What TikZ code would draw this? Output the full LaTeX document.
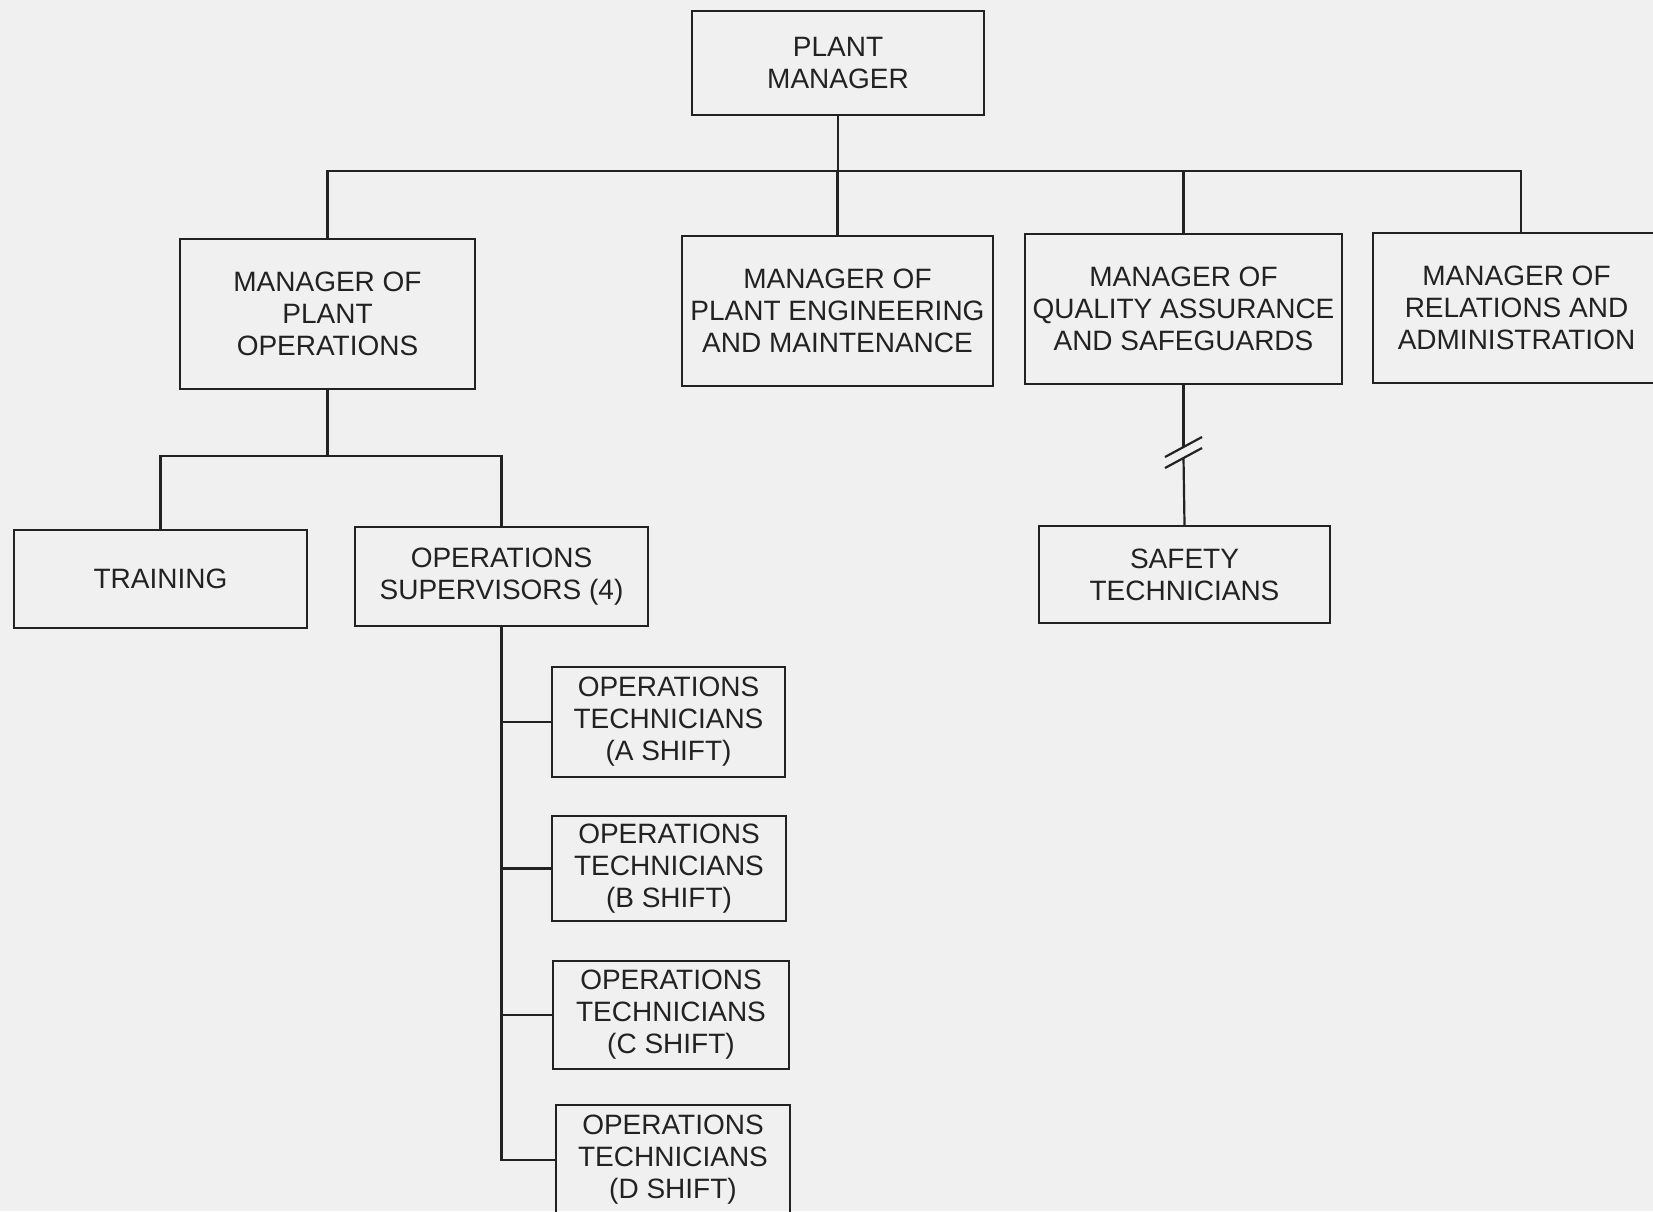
\documentclass[tikz,border=0pt]{standalone}
\usepackage{fontspec}
\setmainfont{Liberation Sans}
\definecolor{paper}{RGB}{240,240,240}
\definecolor{ink}{RGB}{34,34,34}
\begin{document}
\begin{tikzpicture}[x=1pt,y=-1pt,
  box/.style={draw=ink, line width=2.2pt, align=center, inner sep=0pt, text=ink,
    font=\fontsize{28}{32}\selectfont},
  link/.style={draw=ink, line width=2.2pt}]
\fill[paper] (0,0) rectangle (1653,1211);
\useasboundingbox (0,0) rectangle (1653,1211);
\node[box, minimum width=292pt, minimum height=104pt] (pm) at (838,63) {PLANT\\MANAGER};
\node[box, minimum width=295pt, minimum height=150pt] (ops) at (327.5,314) {MANAGER OF\\PLANT\\OPERATIONS};
\node[box, minimum width=311pt, minimum height=150pt] (eng) at (837.5,311) {MANAGER OF\\PLANT ENGINEERING\\AND MAINTENANCE};
\node[box, minimum width=317pt, minimum height=150pt] (qa) at (1183.5,309) {MANAGER OF\\QUALITY ASSURANCE\\AND SAFEGUARDS};
\node[box, minimum width=287pt, minimum height=150pt] (rel) at (1516.5,308) {MANAGER OF\\RELATIONS AND\\ADMINISTRATION};
\node[box, minimum width=293pt, minimum height=98pt] (trn) at (160.5,579) {TRAINING};
\node[box, minimum width=293pt, minimum height=99pt] (sup) at (501.5,576.5) {OPERATIONS\\SUPERVISORS (4)};
\node[box, minimum width=291pt, minimum height=97pt] (saf) at (1184.5,574.5) {SAFETY\\TECHNICIANS};
\node[box, minimum width=233pt, minimum height=110pt] (ta) at (668.5,722) {OPERATIONS\\TECHNICIANS\\(A SHIFT)};
\node[box, minimum width=234pt, minimum height=105pt] (tb) at (669,868.5) {OPERATIONS\\TECHNICIANS\\(B SHIFT)};
\node[box, minimum width=236pt, minimum height=108pt] (tc) at (671,1015) {OPERATIONS\\TECHNICIANS\\(C SHIFT)};
\node[box, minimum width=234pt, minimum height=110pt] (td) at (673,1160) {OPERATIONS\\TECHNICIANS\\(D SHIFT)};
% top bus
\coordinate (bus) at (838,171);
\coordinate (busR) at (1521,171);
\draw[link] (pm.south) -- (bus);
\draw[link] (ops.north) |- (bus) -- (busR) -- (busR |- rel.north);
\draw[link] (eng.north) -- (eng.north |- bus);
\draw[link] (qa.north) -- (qa.north |- bus);
% operations branch
\coordinate (j1) at (327.5,456);
\draw[link] (ops.south) -- (j1);
\draw[link] (trn.north) |- (j1) -| (sup.north);
% supervisors to technicians
\draw[link] (sup.south) -- (sup.south |- td.west) -- (td.west);
\draw[link] (ta.west) -- (ta.west -| sup.south);
\draw[link] (tb.west) -- (tb.west -| sup.south);
\draw[link] (tc.west) -- (tc.west -| sup.south);
% QA to safety with break
\coordinate (brkA) at (1183.5,447);
\coordinate (brkB) at (1183.5,458);
\draw[link] (qa.south) -- (brkA);
\draw[link] (brkB) -- (saf.north);
\draw[link] (1165,457) -- (1202,437);
\draw[link] (1165,468) -- (1202,448);
\end{tikzpicture}
\end{document}
